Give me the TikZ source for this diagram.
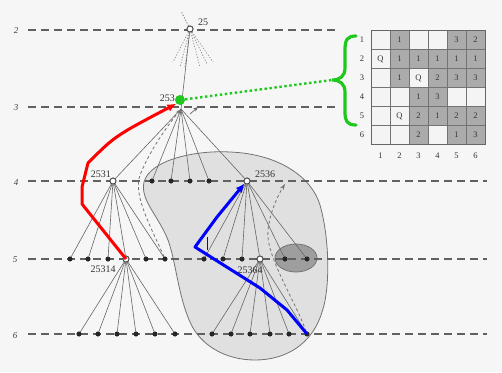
\documentclass[tikz,border=0pt]{standalone}
\usepackage{fontspec}
\setmainfont{Liberation Serif}
\usetikzlibrary{arrows.meta}
\definecolor{gr}{HTML}{1EC81E}
\definecolor{bg}{HTML}{F6F6F6}
\definecolor{cellg}{HTML}{ABABAB}
\definecolor{cellw}{HTML}{F4F4F4}
\begin{document}
\begin{tikzpicture}[x=1pt,y=-1pt,
  opn/.style={circle,draw=black!75,fill=white,line width=0.8pt,inner sep=0pt,minimum size=6pt},
  dotn/.style={circle,fill=black!85,inner sep=0pt,minimum size=4.8pt},
  fan/.style={draw=black!60,line width=0.6pt},
  levline/.style={draw=black!62,line width=1.2pt,dash pattern=on 8pt off 5pt},
  lab/.style={font=\fontsize{10}{12}\selectfont,text=black!80,inner sep=1pt},
  lvl/.style={font=\itshape\fontsize{9}{11}\selectfont,text=black!75,inner sep=0pt},
  dasharr/.style={draw=black!55,line width=0.8pt,dash pattern=on 3pt off 2.5pt,-{Stealth[length=6pt,width=4pt]}},
  cell/.style={draw=black!55,line width=0.6pt},
  celltxt/.style={font=\fontsize{8.5}{10}\selectfont,text=black!80,inner sep=0pt},
]
\fill[bg] (0,0) rectangle (502,372);
\useasboundingbox (0,0) rectangle (502,372);

% big region
\draw[black!55,line width=0.8pt,fill=black!12]
  (144,182) .. controls (150,160) and (195,150) .. (230,152)
  .. controls (280,154) and (312,178) .. (320,205)
  .. controls (330,240) and (330,290) .. (322,312)
  .. controls (312,345) and (285,360) .. (255,360)
  .. controls (225,360) and (200,345) .. (190,322)
  .. controls (178,295) and (176,262) .. (168,240)
  .. controls (158,215) and (140,200) .. (144,182) -- cycle;
% gray ellipse
\draw[black!55,line width=0.8pt,fill=black!38] (296,258) ellipse [x radius=21pt,y radius=14pt];

% level lines
\draw[levline] (28,30) -- (335,30);
\draw[levline] (28,107) -- (335,107);
\draw[levline] (28,181) -- (487,181);
\draw[levline] (28,259) -- (487,259);
\draw[levline] (28,334) -- (487,334);
\node[lvl] (l2) at (16,31) {2};
\node[lvl] (l3) at (16,108) {3};
\node[lvl] (l4) at (16,183) {4};
\node[lvl] (l5) at (15,260) {5};
\node[lvl] (l6) at (15,336) {6};

% nodes
\node[opn] (n25) at (190,29) {};
\coordinate (f253) at (181,109);
\coordinate (up25) at (181,11);
\foreach \i/\x/\y in {a/173/62,b/180/67,c/185/67,d/200/67,e/207/64,f/213/62}
  \coordinate (dt\i) at (\x,\y);

\node[opn] (n2531) at (113,181) {};
\node[opn] (n2536) at (247,181) {};
\foreach \i/\x in {a/152,b/171,c/190,d/209}
  \node[dotn] (m\i) at (\x,181) {};

\node[opn] (n25314) at (126,259) {};
\foreach \i/\x in {a/70,b/88,c/108,d/146,e/165}
  \node[dotn] (p\i) at (\x,259) {};
\node[opn] (n25364) at (260,259) {};
\foreach \i/\x in {a/204,b/223,c/242,d/285,e/307}
  \node[dotn] (q\i) at (\x,259) {};

\foreach \i/\x in {a/79,b/98,c/117,d/136,e/155,f/175}
  \node[dotn] (r\i) at (\x,334) {};
\foreach \i/\x in {a/212,b/231,c/250,d/270,e/289,f/307}
  \node[dotn] (s\i) at (\x,334) {};

% fans
\draw[black!50,line width=0.7pt,dash pattern=on 1.2pt off 1.6pt] (n25) -- (up25);
\foreach \i in {a,b,c,d,e,f}
  \draw[black!45,line width=0.7pt,dash pattern=on 1.2pt off 1.6pt] (n25) -- (dt\i);
\draw[fan] (n25) -- (f253);
\foreach \t in {n2531,ma,mb,mc,md,n2536}
  \draw[fan] (f253) -- (\t);
\foreach \t in {pa,pb,pc,n25314,pd,pe}
  \draw[fan] (n2531) -- (\t);
\foreach \t in {qa,qb,qc,n25364,qd,qe}
  \draw[fan] (n2536) -- (\t);
\foreach \t in {ra,rb,rc,rd,re,rf}
  \draw[fan] (n25314) -- (\t);
\foreach \t in {sa,sb,sc,sd,se,sf}
  \draw[fan] (n25364) -- (\t);
% redraw nodes on top
\foreach \n in {n2531,n2536,n25314,n25364}
  \node[opn] at (\n) {};
\foreach \n in {ma,mb,mc,md,pa,pb,pc,pd,pe,qa,qb,qc,qd,qe,ra,rb,rc,rd,re,rf,sa,sb,sc,sd,se,sf}
  \node[dotn] at (\n) {};
\node[opn] at (n25) {};

% dashed arrows
\draw[dasharr] (pe) .. controls (150,225) and (133,195) .. (140,175) .. controls (150,150) and (168,125) .. (f253);
\coordinate (ar4) at (285,184);
\draw[dasharr] (sf) .. controls (295,300) and (265,255) .. (268,230) .. controls (270,212) and (278,195) .. (ar4);
\coordinate (sa1) at (190,114);
\coordinate (sa2) at (198,107);
\draw[black!60,line width=0.7pt,-{Stealth[length=5pt,width=4pt]}] (sa1) -- (sa2);

% labels
\node[lab,anchor=west] (t25) at (197,22) {25};
\node[lab,anchor=east] (t253) at (176,98) {253};
\node[lab,anchor=east] (t2531) at (112,174) {2531};
\node[lab,anchor=west] (t2536) at (254,174) {2536};
\node[lab] (t25314) at (103,269) {25314};
\node[lab] (t25364) at (250,270) {25364};

% coloured overlays
\node[circle,fill=gr,inner sep=0pt,minimum size=10pt] (g253) at (180,100) {};
\coordinate (c1) at (82,204);
\coordinate (c2) at (82,187);
\coordinate (c3) at (88,163);
\draw[red,line width=3pt,line join=round,-{Latex[length=9pt,width=8pt]}]
  (n25314.center) -- (c1) -- (c2) -- (c3) .. controls (115,136) .. (g253.south west);
\coordinate (b1) at (287,310);
\coordinate (b2) at (260,288);
\coordinate (b3) at (195,247);
\coordinate (b4) at (217,217);
\draw[blue,line width=3pt,line join=round,-{Latex[length=9pt,width=8pt]}]
  (sf.center) -- (b1) -- (b2) -- (b3) -- (b4) -- (n2536.south west);
\coordinate (bt1) at (207,237);
\coordinate (bt2) at (207,250);
\draw[blue,line width=0.7pt] (bt1) -- (bt2);

% brace
\coordinate (btip) at (332,80);
\draw[gr,line width=2.4pt,dash pattern=on 2.4pt off 2.6pt] (g253) -- (btip);
\draw[gr,line width=3.2pt,line cap=round]
  (356,36) .. controls (347,36) and (345,40) .. (345,50) -- (345,68)
  .. controls (345,76) and (340,80) .. (btip)
  .. controls (340,80) and (345,84) .. (345,92) -- (345,112)
  .. controls (345,121) and (347,125) .. (356,125);

% board
\def\gtest{g}
\foreach \r/\cols in {
  1/{w/,g/1,w/,w/,g/3,g/2},
  2/{w/Q,g/1,g/1,g/1,g/1,g/1},
  3/{w/,g/1,w/Q,g/2,g/3,g/3},
  4/{w/,w/,g/1,g/3,w/,w/},
  5/{w/,w/Q,g/2,g/1,g/2,g/2},
  6/{w/,w/,g/2,w/,g/1,g/3}} {
  \foreach \f/\t [count=\c] in \cols {
    \ifx\f\gtest \def\fc{cellg}\else \def\fc{cellw}\fi
    \draw[cell,fill=\fc] ({371+(\c-1)*19},{30+(\r-1)*19}) rectangle ++(19,19);
    \node[celltxt] (cell\r\c) at ({371+(\c-1)*19+9.5},{30+(\r-1)*19+10}) {\t};
  }
  \node[celltxt] (row\r) at (362,{30+(\r-1)*19+10}) {\r};
  \node[celltxt] (col\r) at ({371+(\r-1)*19+9.5},156) {\r};
}
\draw[black!60,line width=1pt] (371,30) rectangle (485,144);
\end{tikzpicture}
\end{document}
